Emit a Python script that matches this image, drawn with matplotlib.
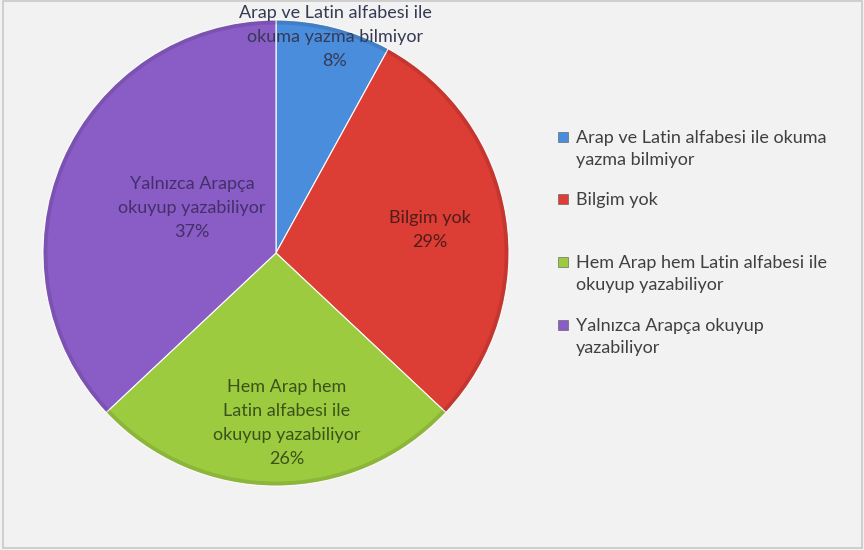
import numpy as np
import matplotlib.pyplot as plt
from matplotlib.patches import Rectangle, Circle

plt.rcParams['font.family'] = ['Lato', 'DejaVu Sans']

slice_labels = ['Arap ve Latin alfabesi ile\nokuma yazma bilmiyor',
                'Bilgim yok',
                'Hem Arap hem\nLatin alfabesi ile\nokuyup yazabiliyor',
                'Yalnızca Arapça\nokuyup yazabiliyor']
legend_labels = ['Arap ve Latin alfabesi ile okuma\nyazma bilmiyor',
                 'Bilgim yok',
                 'Hem Arap hem Latin alfabesi ile\nokuyup yazabiliyor',
                 'Yalnızca Arapça okuyup\nyazabiliyor']
percents = [8, 29, 26, 37]
colors = ['#4a8ddc', '#dc3d35', '#9ccb40', '#8a5cc6']
text_colors = ['#353a55', '#521c1a', '#3a531a', '#43306a']

fig = plt.figure(figsize=(8.64, 5.5), dpi=100)
fig.patch.set_facecolor('#f2f2f2')
fig.add_artist(Rectangle((0.004, 0.004), 0.994, 0.994, transform=fig.transFigure,
                         fill=False, edgecolor='#c8c8c8', linewidth=1.2))

ax = fig.add_axes([43 / 864, 64 / 550, 466 / 864, 466 / 550])
ax.set_aspect('equal')
wedges, _ = ax.pie(percents, colors=colors, startangle=90, counterclock=False,
                   radius=1.0, wedgeprops=dict(edgecolor='white', linewidth=0.8))

# soft rim shading like an office-style bevel
ax.add_patch(Circle((0, 0), 0.99, fill=False, edgecolor='black', alpha=0.10,
                    linewidth=3))

# slice labels
positions = [(0.253, 0.927), (0.66, 0.10), (0.047, -0.73), (-0.36, 0.193)]
for (x, y), lab, p, tc in zip(positions, slice_labels, percents, text_colors):
    ax.text(x, y, f'{lab}\n{p}%', ha='center', va='center', fontsize=13,
            color=tc, linespacing=1.62, clip_on=False)

ax.set_xlim(-1, 1)
ax.set_ylim(-1, 1)
ax.axis('off')

# legend on the right
leg_y = [137, 199, 262, 325]
for y, lab, c in zip(leg_y, legend_labels, colors):
    fig.add_artist(Rectangle((558 / 864, 1 - (y + 5) / 550), 10 / 864, 10 / 550,
                             transform=fig.transFigure, facecolor=c,
                             edgecolor='#555555', linewidth=0.4))
    fig.text(576 / 864, 1 - (y - 7) / 550, lab, ha='left', va='top', fontsize=13,
             color='#404040', linespacing=1.45)

fig.savefig('out.png', dpi=100, facecolor=fig.get_facecolor())
